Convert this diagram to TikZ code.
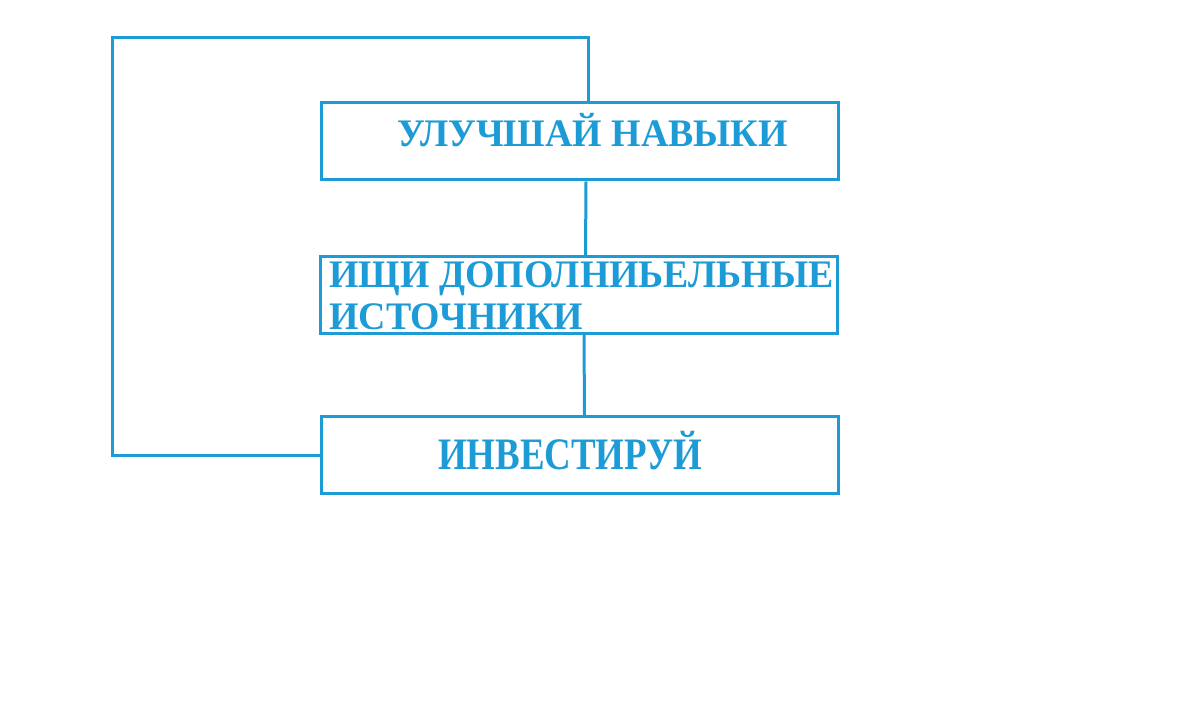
\documentclass[tikz,border=0pt]{standalone}
\usepackage{fontspec}
\setmainfont{Liberation Serif}
\definecolor{skyblue}{RGB}{28,155,214}
\newcommand{\boxtext}[1]{\scalebox{0.97}[1]{#1}}
\begin{document}
\begin{tikzpicture}[x=1pt,y=-1pt,line width=3pt,
  box/.style={draw=skyblue, minimum width=517pt, minimum height=77pt, inner sep=0pt},
  lbl/.style={text=skyblue, inner sep=0pt, font=\fontsize{39}{41}\selectfont\bfseries}]

\useasboundingbox (0,0) rectangle (1200,719);

% boxes
\node[box] (skills) at (579.5,141.5) {};
\node[box] (sources) at (579,295) {};
\node[box] (invest) at (579.5,455) {};

% texts
\node[lbl, anchor=base] (skillstext) at (592.5,147) {\boxtext{УЛУЧШАЙ НАВЫКИ}};
\node[lbl, anchor=base west] (sourcesone) at (328,288) {\boxtext{ИЩИ ДОПОЛНИЬЕЛЬНЫЕ}};
\node[lbl, anchor=base west] (sourcestwo) at (328,330) {\boxtext{ИСТОЧНИКИ}};
\node[lbl, anchor=base] (investtext) at (570,469)
   {\scalebox{0.82}[1]{\fontsize{45}{47}\selectfont ИНВЕСТИРУЙ}};

% connectors
\draw[skyblue] ([xshift=6.5pt]skills.south) -- ([xshift=6.5pt]sources.north);
\draw[skyblue] ([xshift=5pt]sources.south) -- ([xshift=5pt]invest.north);
\draw[skyblue] ([xshift=8.5pt]skills.north) |- (112,38) |- (invest.west);

\end{tikzpicture}
\end{document}
